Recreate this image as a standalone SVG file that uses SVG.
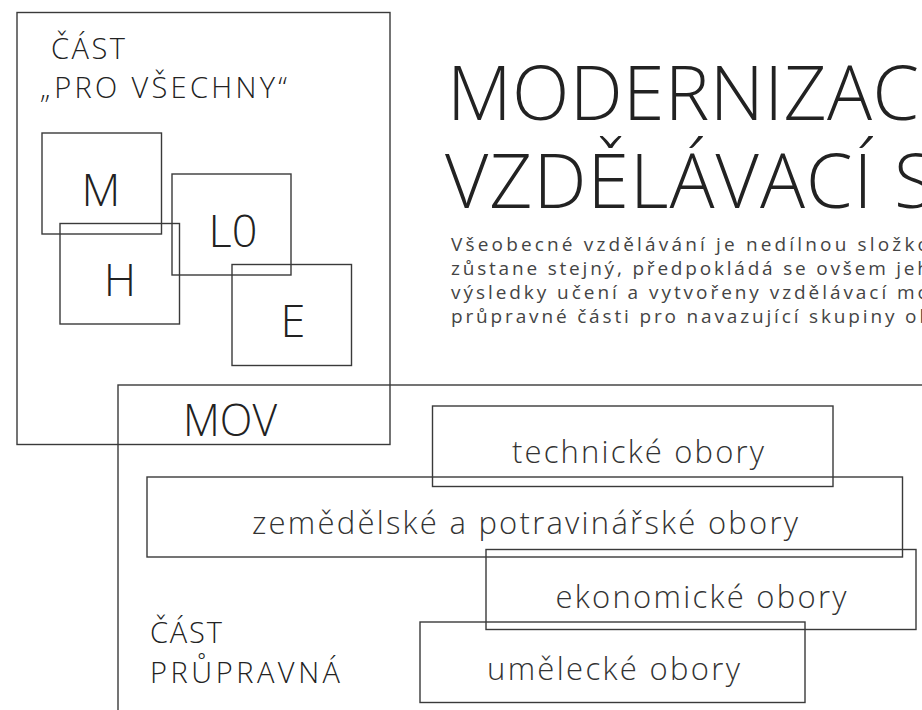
<svg xmlns="http://www.w3.org/2000/svg" width="922" height="710" viewBox="0 0 922 710">
<style>
  .box { fill: none; stroke: #3a3a3a; stroke-width: 1.4; }
  .t { font-family: "Open Sans", "Liberation Sans", sans-serif; font-weight: 300; fill: #222; }
  .big { font-size: 45px; text-anchor: middle; }
  .lbl { font-size: 29px; }
  .obor { font-size: 31px; text-anchor: middle; fill: #333; }
  .title { font-size: 75px; }
  .body { font-family: "Open Sans", "Liberation Sans", sans-serif; font-weight: 400; font-size: 19px; fill: #444; }
</style>
<rect width="922" height="710" fill="#fff"/>

<g id="title">
  <text class="t title" x="447" y="120" textLength="472" lengthAdjust="spacing">MODERNIZAC</text>
  <text class="t title" x="445" y="208" textLength="490" lengthAdjust="spacing">VZDĚLÁVACÍ S</text>
</g>

<g id="intro">
  <text class="body" x="451" y="251" textLength="478" lengthAdjust="spacing">Všeobecné vzdělávání je nedílnou složko</text>
  <text class="body" x="451" y="275" textLength="478" lengthAdjust="spacing">zůstane stejný, předpokládá se ovšem jeh</text>
  <text class="body" x="451" y="299" textLength="478" lengthAdjust="spacing">výsledky učení a vytvořeny vzdělávací mo</text>
  <text class="body" x="451" y="323" textLength="480" lengthAdjust="spacing">průpravné části pro navazující skupiny ob</text>
</g>

<g id="cast-pro-vsechny">
  <rect class="box" x="17" y="12.5" width="373" height="432"/>
  <text class="t lbl" x="51" y="59" textLength="74" lengthAdjust="spacing">ČÁST</text>
  <text class="t lbl" x="40" y="98" textLength="247" lengthAdjust="spacing">„PRO VŠECHNY“</text>
</g>

<g id="node-M">
  <rect class="box" x="42" y="133" width="119.5" height="101"/>
  <text class="t big" x="101" y="206">M</text>
</g>
<g id="node-H">
  <rect class="box" x="60" y="223.5" width="119.5" height="100.5"/>
  <text class="t big" x="120" y="296">H</text>
</g>
<g id="node-L0">
  <rect class="box" x="172" y="174" width="119" height="101"/>
  <text class="t big" x="233" y="247">L0</text>
</g>
<g id="node-E">
  <rect class="box" x="232" y="264.5" width="119.5" height="101"/>
  <text class="t big" x="293" y="337">E</text>
</g>

<g id="mov">
  <rect class="box" x="118" y="385" width="900" height="400"/>
  <text class="t" x="183" y="436" font-size="45" textLength="94" lengthAdjust="spacingAndGlyphs">MOV</text>
</g>

<g id="cast-prupravna">
  <text class="t lbl" x="150" y="643" textLength="72" lengthAdjust="spacing">ČÁST</text>
  <text class="t lbl" x="150" y="683" textLength="190" lengthAdjust="spacing">PRŮPRAVNÁ</text>
</g>

<g id="node-technicke">
  <rect class="box" x="432.5" y="406" width="400.5" height="80.5"/>
  <text class="t obor" x="638" y="463" textLength="252" lengthAdjust="spacing">technické obory</text>
</g>
<g id="node-zemedelske">
  <rect class="box" x="147" y="477" width="755.5" height="80"/>
  <text class="t obor" x="525" y="534" textLength="546" lengthAdjust="spacing">zemědělské a potravinářské obory</text>
</g>
<g id="node-ekonomicke">
  <rect class="box" x="486" y="549.5" width="430" height="80"/>
  <text class="t obor" x="701" y="608" textLength="291" lengthAdjust="spacing">ekonomické obory</text>
</g>
<g id="node-umelecke">
  <rect class="box" x="420" y="622" width="385" height="80.5"/>
  <text class="t obor" x="613.5" y="680" textLength="253" lengthAdjust="spacing">umělecké obory</text>
</g>

<g id="connectors"></g>
</svg>
